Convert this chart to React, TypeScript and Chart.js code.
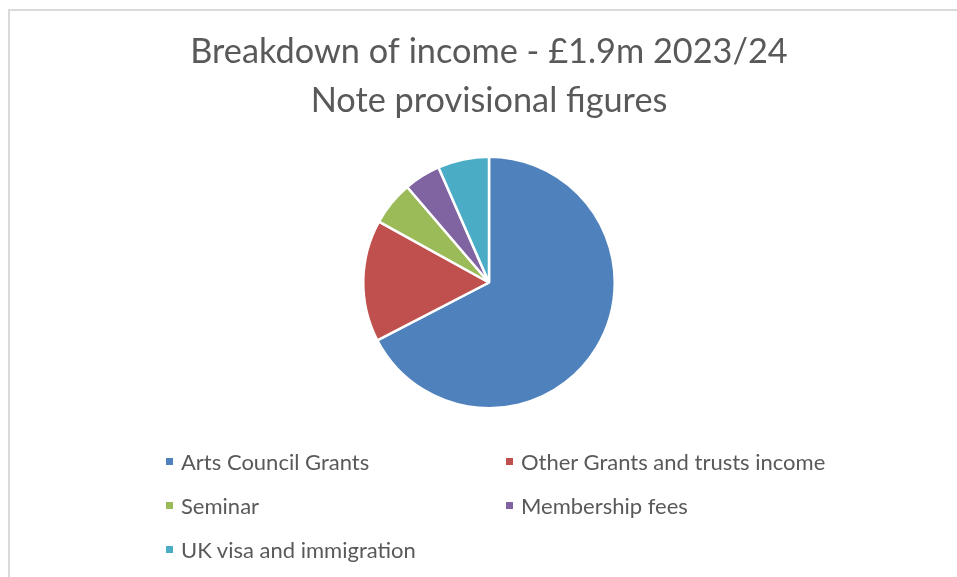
import React, { useEffect, useRef } from "react";
import { Chart, registerables } from "chart.js";

Chart.register(...registerables);

const titleLines = ["Breakdown of income - £1.9m 2023/24", "Note provisional figures"];
const categories = [
  "Arts Council Grants",
  "Other Grants and trusts income",
  "Seminar",
  "Membership fees",
  "UK visa and immigration",
];
const incomeValues = [1280, 297, 108, 89, 125]; // £k, estimated
const sliceColors = ["#4F81BD", "#C0504D", "#9BBB59", "#8064A2", "#4BACC6"];

const TEXT = "#595959";
const FONT = "Lato, 'Open Sans', sans-serif";

export default function App() {
  const ref = useRef<HTMLCanvasElement | null>(null);

  useEffect(() => {
    if (!ref.current) return;
    const chart = new Chart(ref.current, {
      type: "pie",
      data: {
        labels: categories,
        datasets: [
          {
            data: incomeValues,
            backgroundColor: sliceColors,
            borderColor: "#ffffff",
            borderWidth: 2.5,
          },
        ],
      },
      options: {
        responsive: false,
        animation: false,
        devicePixelRatio: 1,
        layout: { padding: { left: 21, right: 0, top: 0, bottom: 167.5 } },
        plugins: {
          legend: { display: false },
          tooltip: { enabled: false },
          title: {
            display: true,
            text: titleLines,
            color: TEXT,
            font: { family: FONT, size: 34.3, weight: "normal", lineHeight: 49 / 34.3 },
            padding: { top: 27.5, bottom: 30 },
          },
        },
      },
    });
    return () => chart.destroy();
  }, []);

  const legendPos = [
    { x: 166, y: 461 },
    { x: 506, y: 461 },
    { x: 166, y: 505 },
    { x: 506, y: 505 },
    { x: 166, y: 549 },
  ];

  return (
    <div style={{ position: "fixed", left: 0, top: 0, width: 957, height: 577, background: "#fff", overflow: "hidden" }}>
      <div
        style={{
          position: "absolute",
          left: 8,
          top: 9,
          width: 980,
          height: 620,
          borderLeft: "2px solid #d9d9d9",
          borderTop: "2px solid #d9d9d9",
          boxSizing: "border-box",
        }}
      />
      <canvas ref={ref} width={957} height={577} style={{ position: "absolute", left: 0, top: 0, width: 957, height: 577 }} />
      {categories.map((c, i) => (
        <div
          key={c}
          style={{
            position: "absolute",
            left: legendPos[i].x,
            top: legendPos[i].y - 15,
            height: 30,
            display: "flex",
            alignItems: "center",
            fontFamily: FONT,
            fontSize: 22,
            color: TEXT,
            whiteSpace: "nowrap",
          }}
        >
          <span style={{ display: "inline-block", width: 7, height: 7, background: sliceColors[i], marginRight: 8 }} />
          <span>{c}</span>
        </div>
      ))}
    </div>
  );
}
